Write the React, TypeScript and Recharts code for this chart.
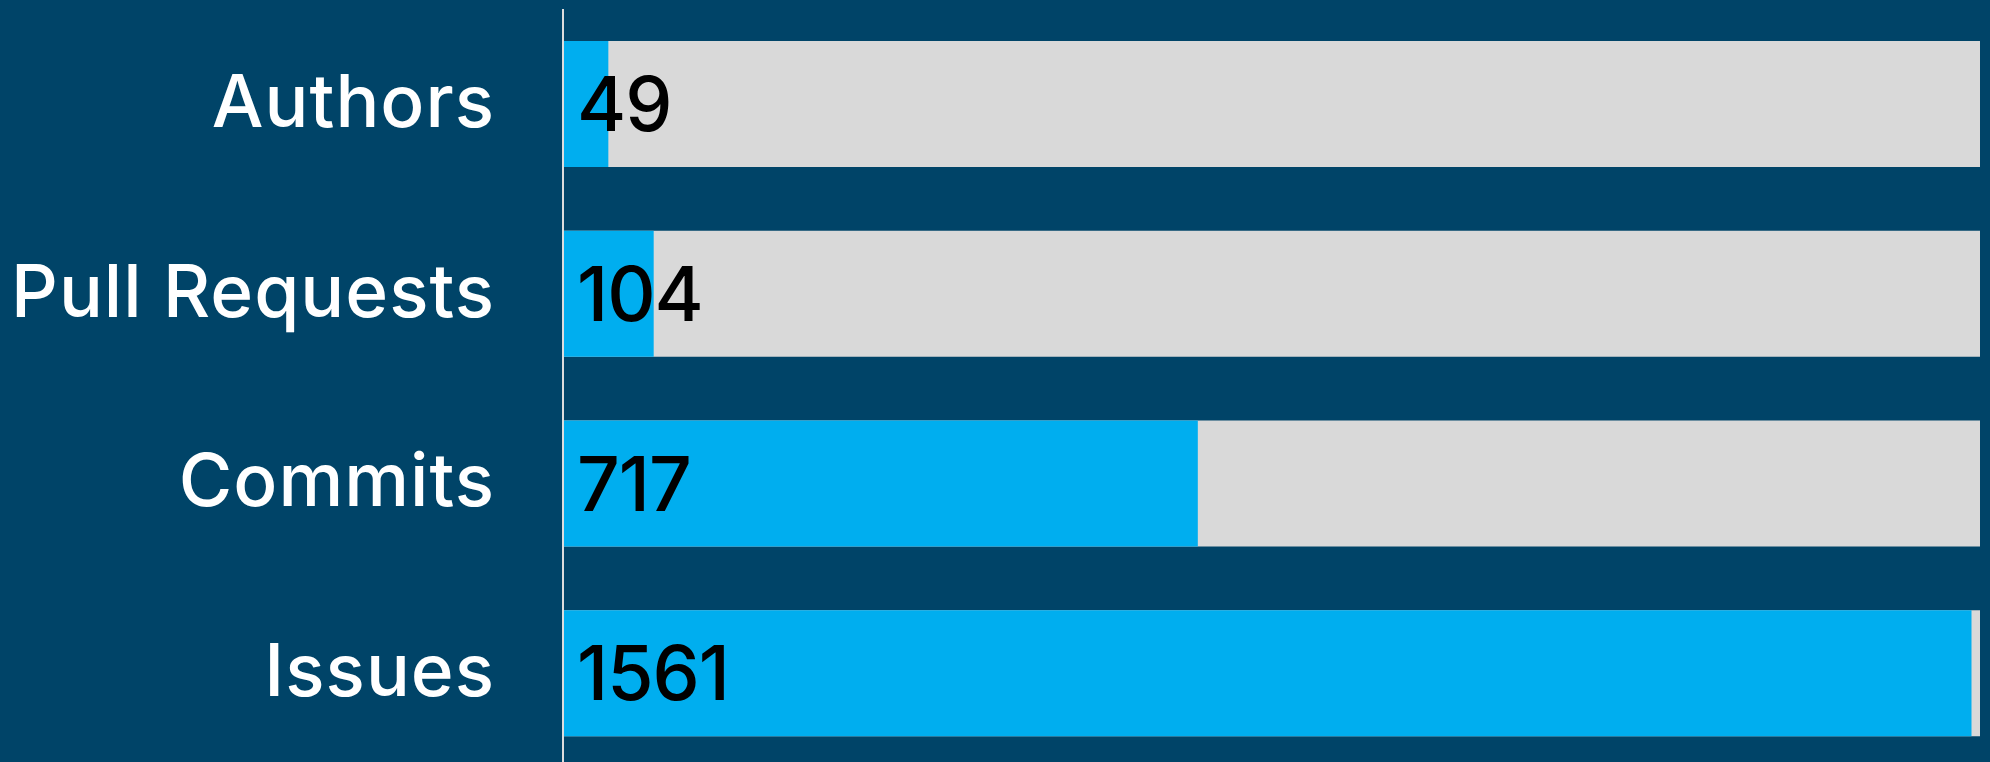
import { BarChart, Bar, XAxis, YAxis, LabelList } from 'recharts';

// metric names, raw counts and the share of the bar that is filled
const categories = ['Authors', 'Pull Requests', 'Commits', 'Issues'];
const counts = [49, 104, 717, 1561];
const filled = [3.2, 6.4, 44.8, 99.4];

const data = categories.map((name, i) => ({ name, count: counts[i], filled: filled[i] }));

const FONT = 'Inter, "Noto Sans", sans-serif';

const CountLabel = (props: any) => {
    const { x, y, height, index } = props;
    return (
        <text
            x={x + 14}
            y={y + height / 2}
            dy="0.36em"
            fill="#000"
            fontSize={75}
            fontWeight={500}
            fontFamily={FONT}
            letterSpacing={-1}
        >
            {counts[index]}
        </text>
    );
};

const NameTick = (props: any) => {
    const { x, y, payload } = props;
    return (
        <text
            x={x}
            y={y}
            dy={23}
            textAnchor="end"
            fill="#ffffff"
            fontSize={73}
            fontWeight={500}
            fontFamily={FONT}
            letterSpacing={1}
        >
            {payload.value}
        </text>
    );
};

export default function App() {
    return (
        <div style={{ position: 'absolute', left: 0, top: 0, width: 1990, height: 762, overflow: 'hidden', background: '#004468' }}>
            <BarChart
                width={1990}
                height={768}
                data={data}
                layout="vertical"
                margin={{ top: 9, right: 10, bottom: 0, left: 0 }}
            >
                <XAxis type="number" domain={[0, 100]} hide />
                <YAxis
                    type="category"
                    dataKey="name"
                    width={563}
                    axisLine={{ stroke: '#dddddd', strokeWidth: 2 }}
                    tickLine={false}
                    tickMargin={62}
                    tick={NameTick}
                />
                <Bar
                    dataKey="filled"
                    fill="#00aeef"
                    barSize={126}
                    background={{ fill: '#d9d9d9' }}
                    isAnimationActive={false}
                >
                    <LabelList dataKey="count" content={CountLabel} />
                </Bar>
            </BarChart>
        </div>
    );
}
